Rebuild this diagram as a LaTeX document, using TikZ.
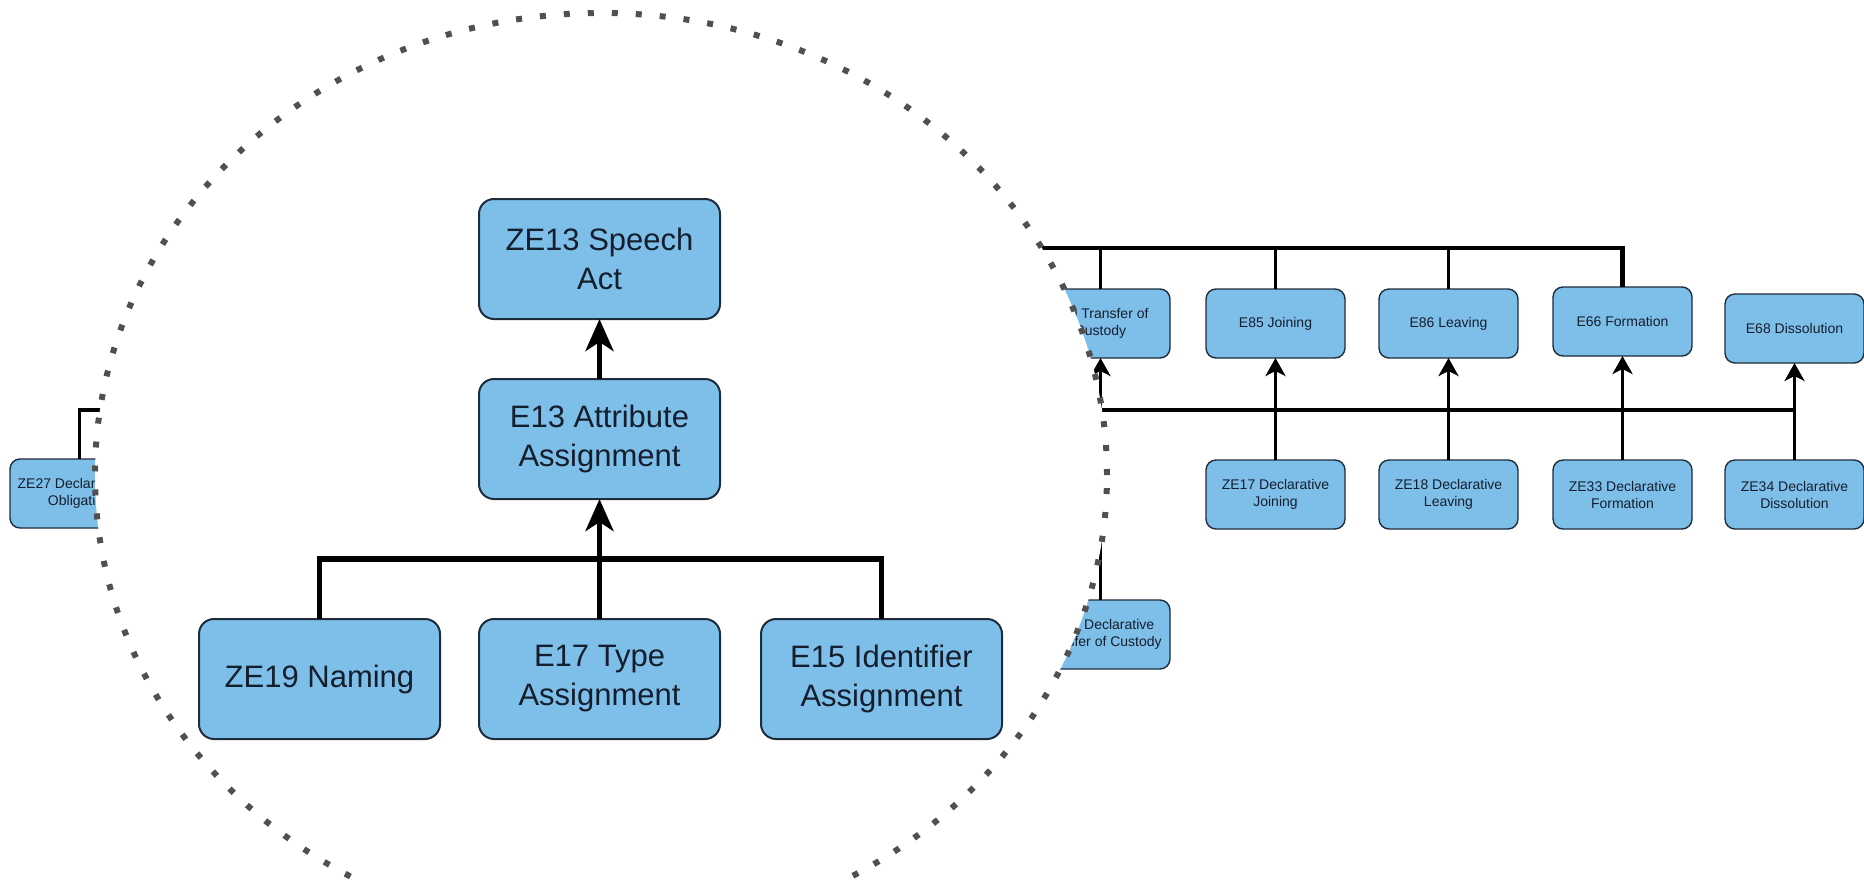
\documentclass[tikz,border=0pt]{standalone}
\usepackage{fontspec}
\setmainfont{Liberation Sans}
\usetikzlibrary{arrows.meta}
\definecolor{boxfill}{RGB}{126,191,233}
\definecolor{boxedge}{RGB}{30,45,60}
\definecolor{txt}{RGB}{20,30,45}
\definecolor{dotgray}{RGB}{80,80,80}
\begin{document}
\begin{tikzpicture}[x=1pt,y=-1pt,
  bigbox/.style={draw=boxedge, fill=boxfill, line width=2pt, rounded corners=15pt,
    minimum width=241pt, minimum height=120pt, inner sep=0pt, outer sep=0pt,
    anchor=north west, align=center, text=txt, font=\fontsize{31}{39}\selectfont},
  smallbox/.style={draw=boxedge, fill=boxfill, line width=1.4pt, rounded corners=10pt,
    minimum width=139pt, minimum height=69pt, inner sep=0pt, outer sep=0pt,
    anchor=north west, align=center, text=txt, font=\fontsize{14}{17}\selectfont},
  bigline/.style={line width=5.5pt, line join=miter},
  bigarrow/.style={line width=5.5pt, -{Stealth[length=32pt, width=28pt, inset=9pt]}},
  bgline/.style={line width=3.8pt, line join=miter},
  bgbar/.style={line width=4.4pt, line join=miter},
  smallarrow/.style={line width=3.8pt, -{Stealth[length=18pt, width=20pt, inset=5pt]}},
  lens/.style={fill=white, draw=dotgray, line width=6pt, dash pattern=on 6pt off 18pt}
]
\useasboundingbox (0,0) rectangle (1864,879);
\clip (0,0) rectangle (1864,879);

% background diagram
\node[smallbox] (ze27) at (10,459) {ZE27 Declar\phantom{ation of}\\Obligati\phantom{on}};
\node[smallbox] (e10) at (1031,289) {E10 Transfer of\\Custody};
\node[smallbox] (e85) at (1206,289) {E85 Joining};
\node[smallbox] (e86) at (1379,289) {E86 Leaving};
\node[smallbox] (e66) at (1553,287) {E66 Formation};
\node[smallbox] (e68) at (1725,294) {E68 Dissolution};
\node[smallbox] (zetc) at (1031,600) {\phantom{ZE00 }Declarative\\Transfer of Custody};
\node[smallbox] (ze17) at (1206,460) {ZE17 Declarative\\Joining};
\node[smallbox] (ze18) at (1379,460) {ZE18 Declarative\\Leaving};
\node[smallbox] (ze33) at (1553,460) {ZE33 Declarative\\Formation};
\node[smallbox] (ze34) at (1725,460) {ZE34 Declarative\\Dissolution};

\coordinate (topbar) at (640,248);
\coordinate (midbar) at (0,410);
\draw[bgbar] (topbar) -| (e66.north);
\foreach \n in {e10,e85,e86} \draw[bgline] (\n.north) -- (\n.north |- topbar);
\draw[bgline] (ze27.north) |- (ze34.north |- midbar);
\draw[smallarrow] (zetc.north) -- (e10.south);
\draw[smallarrow] (ze17.north) -- (e85.south);
\draw[smallarrow] (ze18.north) -- (e86.south);
\draw[smallarrow] (ze33.north) -- (e66.south);
\draw[smallarrow] (ze34.north) -- (e68.south);

% magnifying lens
\path[lens] (601,475) ellipse [x radius=506pt, y radius=462pt];

% magnified diagram
\node[bigbox] (ze13) at (479,199) {ZE13 Speech\\Act};
\node[bigbox] (e13) at (479,379) {E13 Attribute\\Assignment};
\node[bigbox] (ze19) at (199,619) {ZE19 Naming};
\node[bigbox] (e17) at (479,619) {E17 Type\\Assignment};
\node[bigbox] (e15) at (761,619) {E15 Identifier\\Assignment};
\coordinate (jb) at (600,559);
\draw[bigline] (ze19.north) |- (jb) -| (e15.north);
\draw[bigarrow] (e17.north) -- (e13.south);
\draw[bigarrow] (e13.north) -- (ze13.south);
\end{tikzpicture}
\end{document}
